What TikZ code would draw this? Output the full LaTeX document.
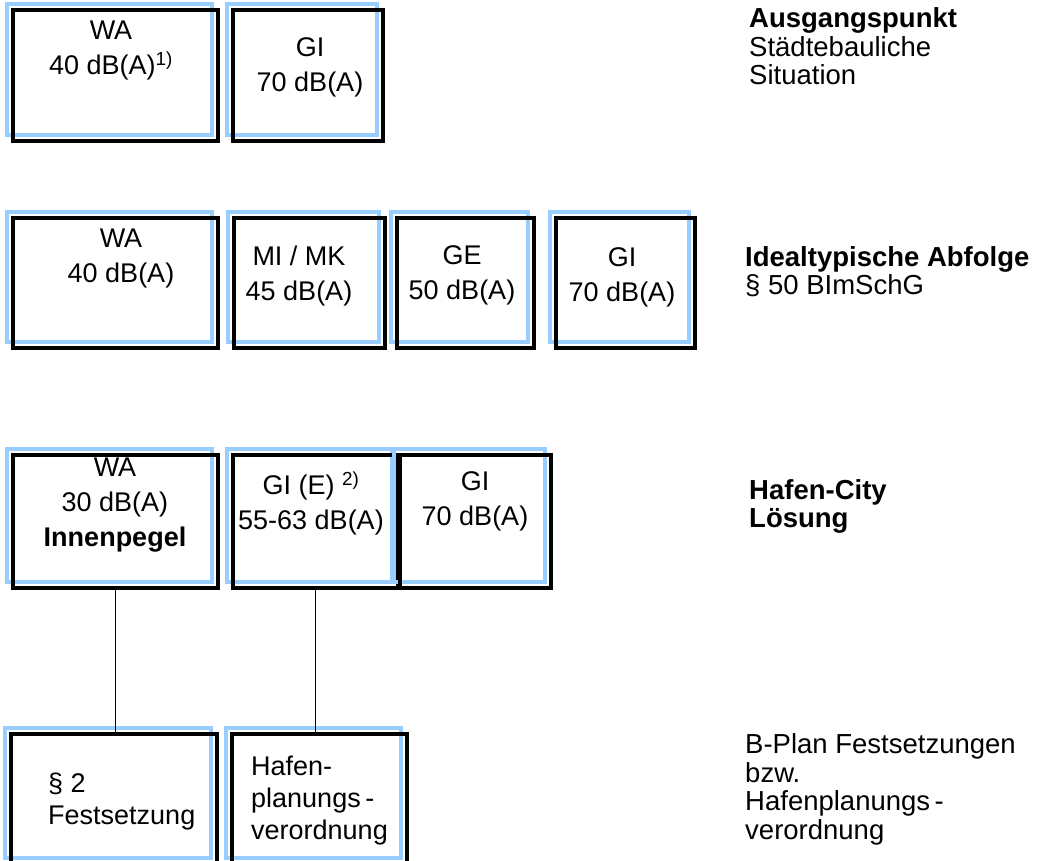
\documentclass[tikz,border=0pt]{standalone}
\usepackage{fontspec}
\setmainfont{Liberation Sans}
\definecolor{hcblue}{RGB}{153,204,255}

\begin{document}
\begin{tikzpicture}
[x=1pt,y=-1pt
,bx/.style={draw=black,line width=3.4pt,inner sep=0pt
  ,preaction={draw=hcblue,line width=3.2pt,transform canvas={shift={(-6pt,6pt)}}}}
,bt/.style={align=center,inner sep=0pt,font=\fontsize{27}{35}\selectfont}
,bl/.style={align=left,inner sep=0pt,font=\fontsize{27}{32}\selectfont}
,side/.style={anchor=west,align=left,inner sep=0pt,font=\fontsize{27.5}{28.5}\selectfont}
,ln/.style={draw=black,line width=1.3pt}]
\useasboundingbox (0,0) rectangle (1038,861);
\clip (0,0) rectangle (1038,861);
% Ausgangspunkt
\node[bx,minimum width=205pt,minimum height=131pt] (wa1) at (115.5,75.5) {};
\node[bx,minimum width=150pt,minimum height=131pt] (gi1) at (308,75.5) {};
\node[bt] (wa1t) at (111,51) {WA\\40 dB(A)\textsuperscript{1)}};
\node[bt] (gi1t) at (310,67) {GI\\70 dB(A)};
% Idealtypische Abfolge
\node[bx,minimum width=205pt,minimum height=130pt] (wa2) at (115.5,283) {};
\node[bx,minimum width=151pt,minimum height=130pt] (mi2) at (309.5,283) {};
\node[bx,minimum width=137pt,minimum height=130pt] (ge2) at (465.5,283) {};
\node[bx,minimum width=139pt,minimum height=130pt] (gi2) at (625.5,283) {};
\node[bt] (wa2t) at (121,259) {WA\\40 dB(A)};
\node[bt] (mi2t) at (299,276) {MI / MK\\45 dB(A)};
\node[bt] (ge2t) at (462,275) {GE\\50 dB(A)};
\node[bt] (gi2t) at (622,277) {GI\\70 dB(A)};
% Hafen-City
\node[bx,minimum width=205pt,minimum height=133pt] (wa3) at (115.5,521.5) {};
\node[bx,minimum width=165pt,minimum height=133pt] (gie3) at (315.5,521.5) {};
\node[bx,minimum width=151pt,minimum height=133pt] (gi3) at (475.5,521.5) {};
\node[bt] (wa3t) at (115,505) {WA\\30 dB(A)\\\textbf{Innenpegel}};
\node[bt] (gie3t) at (311,503) {GI (E) \textsuperscript{2)}\\55-63 dB(A)};
\node[bt] (gi3t) at (475,501) {GI\\70 dB(A)};
% B-Plan
\node[bx,minimum width=206pt,minimum height=130pt] (fs4) at (114,799) {};
\node[bx,minimum width=175pt,minimum height=130pt] (hp4) at (319.5,799) {};
\node[bl,anchor=west] (fs4t) at (48,802) {§ 2\\Festsetzung};
\node[bl,anchor=west] (hp4t) at (251,801) {Hafen-\\planungs\,-\\verordnung};
\draw[ln] (wa3.south) -- (wa3.south |- fs4.north);
\draw[ln] (gie3.south) -- (gie3.south |- hp4.north);
% Beschriftung rechts
\node[side] (s1) at (749,46.5) {\textbf{Ausgangspunkt}\\Städtebauliche\\Situation};
\node[side] (s2) at (745,271.5) {\textbf{Idealtypische Abfolge}\\§ 50 BImSchG};
\node[side] (s3) at (749,506.5) {\textbf{Hafen-City}\\\textbf{Lösung}};
\node[side] (s4) at (745,789.5) {B-Plan Festsetzungen\\bzw.\\Hafenplanungs\,-\\verordnung};
\end{tikzpicture}
\end{document}
